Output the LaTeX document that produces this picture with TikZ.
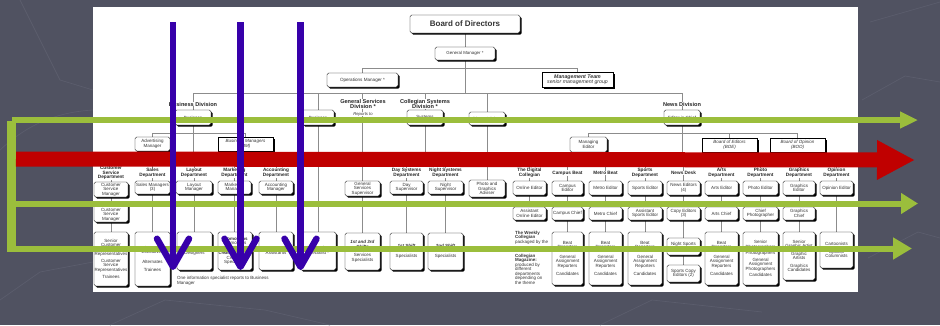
\documentclass[tikz,border=0pt]{standalone}
\usepackage{fontspec}
\setmainfont{Liberation Sans}
\usetikzlibrary{arrows.meta,shadows}

\definecolor{slide}{RGB}{80,82,97}
\definecolor{slideline}{RGB}{91,93,109}
\definecolor{arrowblue}{RGB}{55,0,170}
\definecolor{arrowred}{RGB}{192,0,0}
\definecolor{arrowgreen}{RGB}{155,190,60}

\pgfdeclarelayer{back}
\pgfdeclarelayer{wires}
\pgfdeclarelayer{front}
\pgfsetlayers{back,wires,main,front}

\begin{document}
\begin{tikzpicture}[x=1pt,y=-1pt,
  box/.style={draw=black, line width=.45pt, fill=white, rounded corners=1.6pt,
    align=center, inner sep=.4pt, text=black!80, font=\fontsize{4.5}{4.5}\selectfont,
    drop shadow={shadow xshift=1.7pt, shadow yshift=-1.7pt, opacity=1, fill=black}},
  sqbox/.style={box, rounded corners=0pt, font=\fontsize{4.5}{4.5}\selectfont\itshape},
  head/.style={align=center, inner sep=.4pt, fill=white, text=black!85,
    font=\fontsize{4.7}{4.5}\selectfont\bfseries},
  divhead/.style={head, font=\fontsize{5.6}{5.8}\selectfont\bfseries},
  note/.style={align=left, inner sep=0pt, text=black!80, font=\fontsize{4.5}{4.5}\selectfont},
  wire/.style={draw=black!45, line width=.6pt},
  greenline/.style={draw=arrowgreen, fill=arrowgreen, line width=6pt},
  redline/.style={draw=arrowred, fill=arrowred, line width=15pt},
  blueline/.style={draw=arrowblue, line width=6.5pt,
    -{Straight Barb[length=28pt, width=32pt, round]}}
]
\useasboundingbox (0,0) rectangle (940,325);

\begin{pgfonlayer}{back}
\fill[slide] (0,0) rectangle (940,325);
\draw[slideline, line width=.7pt] (870,22) -- (940,2);
\draw[slideline, line width=.7pt] (862,100) -- (905,76) -- (940,82);
\draw[slideline, line width=.7pt] (868,258) -- (918,232) -- (940,238);
\draw[slideline, line width=.7pt] (0,300) -- (40,272) -- (93,262);
\draw[slideline, line width=.7pt] (110,325) -- (165,300) -- (265,310) -- (330,325);
\draw[slideline, line width=.7pt] (600,325) -- (652,300) -- (762,312);
\draw[slideline, line width=.7pt] (0,150) .. controls (30,122) and (60,112) .. (93,110);
\draw[slideline, line width=.7pt] (20,0) -- (60,80) -- (93,90);
\fill[white] (93,7) rectangle (858,292);
\end{pgfonlayer}

% top of the chart
\node[box, minimum width=110pt, minimum height=18pt, font=\fontsize{8}{9}\selectfont\bfseries] (bod) at (465,24) {Board of Directors};
\node[box, minimum width=60pt, minimum height=13pt, font=\fontsize{4.4}{4.8}\selectfont] (gm) at (465,53.5) {General Manager *};
\node[box, minimum width=71pt, minimum height=14pt, font=\fontsize{4.6}{4.8}\selectfont] (ops) at (362.5,80) {Operations Manager *};
\node[sqbox, minimum width=71pt, minimum height=15pt, font=\fontsize{5.2}{5.4}\selectfont] (mgmt) at (577.5,79.5)
  {\textbf{\textit{Management Team}}\\\textit{senior management group}};

% divisions
\node[divhead] (bizdiv) at (193,104) {Business Division};
\node[divhead] (gsdiv) at (363,104) {General Services\\Division *};
\node[note, fill=white, font=\fontsize{4.2}{4.4}\selectfont\itshape] (reports) at (363,114) {Reports to};
\node[divhead] (csdiv) at (425,104) {Collegian Systems\\Division *};
\node[divhead] (newsdiv) at (682,104) {News Division};

% boxes: name / left / top / right / bottom / text
\foreach \nm/\xa/\ya/\xb/\yb/\txt in {
  biz/175/110/211/125/{Business},
  biz2/302/110/334/125/{Business},
  sys/407/110/443/125/{Systems},
  padv/469/112/505/125/{Photo Adviser},
  eic/664/110/700/125/{Editor in Chief},
  adv/135/137/170/151/{Advertising\\Manager},
  me/570/137/607/152/{Managing\\Editor},
  csm/94/182/128/197/{Customer\\Service\\Manager},
  sales/135/181/170/194/{Sales Managers\\(3)},
  lay/176/181/212/194/{Layout\\Manager},
  mkt/218/181/251/194/{Marketing\\Manager},
  acc/259/181/293/194/{Accounting\\Manager},
  gss/345/181/380/196/{General\\Services\\Supervisor},
  day/390/181/423/194/{Day\\Supervisor},
  night/428/181/463/194/{Night\\Supervisor},
  pga/469/180/505/197/{Photo and\\Graphics\\Adviser},
  online/513/181/546/195/{Online Editor},
  campus/552/181/583/195/{Campus\\Editor},
  metro/589/181/622/195/{Metro Editor},
  sports/628/181/662/195/{Sports Editor},
  news/667/181/700/195/{News Editors\\(4)},
  arts/705/181/738/195/{Arts Editor},
  photo/743/181/778/195/{Photo Editor},
  graph/783/181/815/195/{Graphics\\Editor},
  opin/820/181/853/195/{Opinion Editor},
  acsm/94/203/128/222/{Assistant\\Customer\\Service\\Manager},
  aoe/513/207/546/220/{Assistant\\Online Editor},
  cchief/552/207/583/220/{Campus Chief},
  mchief/589/207/622/220/{Metro Chief},
  ase/628/207/662/220/{Assistant\\Sports Editor},
  copy/667/207/700/220/{Copy Editors\\(3)},
  achief/705/207/738/220/{Arts Chief},
  cphoto/743/207/778/220/{Chief\\Photographer},
  gchief/783/207/815/220/{Graphics\\Chief},
  cs3/94/232/128/286/{Senior\\Customer\\Service\\Representatives\\[2pt]Customer\\Service\\Representatives\\[3pt]Trainees},
  sa3/135/232/170/286/{Account\\Executives\\[5pt]Alternates\\[4pt]Trainees},
  la3/177/232/212/270/{Layout\\Designers},
  mk3/218/232/252/270/{\textbf{Promotions}\\Promotions\\Specialists\\[1pt]{\fontsize{3.9}{4.5}\selectfont\bfseries Creative Services}\\Creative\\Specialists},
  ac3/259/232/293/270/{Accounting\\Assistants},
  is3/300/232/336/270/{Information\\Specialist *},
  gs3/345/233/380/270/{\textbf{\textit{1st and 3rd}}\\\textbf{\textit{Shifts}}\\[4pt]Services\\Specialists},
  day3/390/233/423/270/{\textbf{\textit{1st Shift}}\\[5pt]Specialists},
  ngt3/428/233/463/270/{\textbf{\textit{2nd Shift}}\\[5pt]Specialists},
  cb3/552/232/583/285/{Beat\\Reporters\\[5pt]General\\Assignment\\Reporters\\[4pt]Candidates},
  mb3/589/232/622/285/{Beat\\Reporters\\[5pt]General\\Assignment\\Reporters\\[4pt]Candidates},
  sp3/628/232/662/285/{Beat\\Reporters\\[5pt]General\\Assignment\\Reporters\\[4pt]Candidates},
  nse/667/238/700/255/{Night Sports\\Editor},
  sce/667/265/700/282/{Sports Copy\\Editors (2)},
  ar3/705/232/738/285/{Beat\\Reporters\\[5pt]General\\Assignment\\Reporters\\[4pt]Candidates},
  ph3/743/232/778/285/{Senior\\Photographers\\[2pt]Photographers\\[2pt]General\\Assignment\\Photographers\\[2pt]Candidates},
  gr3/783/232/815/280/{Senior\\Graphic Artist\\[3pt]Graphic\\Artists\\[3pt]Graphics\\Candidates},
  op3/820/232/853/268/{Cartoonists\\[3pt]Opinion\\Columnists}}
  \node[box, minimum width={(\xb-\xa)*1pt}, minimum height={(\yb-\ya)*1pt}] (\nm) at ({(\xa+\xb)/2},{(\ya+\yb)/2}) {\txt};

\foreach \nm/\xa/\ya/\xb/\yb/\txt in {
  bm/218/137/273/151/{Business Managers\\(BM)},
  boe/702/138/757/152/{Board of Editors\\(BOE)},
  boo/770/138/825/152/{Board of Opinion\\(BOO)}}
  \node[sqbox, minimum width={(\xb-\xa)*1pt}, minimum height={(\yb-\ya)*1pt}] (\nm) at ({(\xa+\xb)/2},{(\ya+\yb)/2}) {\txt};

% department headings
\foreach \nm/\x/\txt in {
  cshead/111/{Customer\\Service\\Department}, saleshead/152.5/{Sales\\Department},
  layhead/194/{Layout\\Department}, mkthead/234.5/{Marketing\\Department},
  acchead/276/{Accounting\\Department}, dayhead/406.5/{Day Systems\\Department},
  nighthead/445.5/{Night Systems\\Department}, dighead/529.5/{The Digital\\Collegian},
  campushead/567.5/{Campus Beat}, metrohead/605.5/{Metro Beat},
  sportshead/645/{Sports\\Department}, newshead/683.5/{News Desk},
  artshead/721.5/{Arts\\Department}, photohead/760.5/{Photo\\Department},
  graphhead/799/{Graphics\\Department}, opinhead/836.5/{Opinion\\Department}}
  \node[head] (\nm) at (\x,173) {\txt};

\node[note, anchor=north west] (isnote) at (177,276.5) {One information specialist reports to Business\\Manager};
\node[note, anchor=north west] (weekly) at (515,231) {\textbf{The Weekly}\\\textbf{Collegian}\\packaged by the};
\node[note, anchor=north west] (magazine) at (515,254) {\textbf{Collegian}\\\textbf{Magazine:}\\produced by\\different\\departments\\depending on\\the theme};

\begin{pgfonlayer}{wires}
\coordinate (r1) at (0,68);
\coordinate (r2) at (0,93);
\coordinate (r3) at (0,133);
\coordinate (r4) at (0,162);
\draw[wire] (bod) -- (gm);
\draw[wire] (ops.north |- r1) -- (mgmt.north |- r1);
\draw[wire] (ops.north |- r1) -- (ops.north);
\draw[wire] (mgmt.north |- r1) -- (mgmt.north);
\draw[wire] (gm.south) -- (gm.south |- r2);
\draw[wire] (biz.north |- r2) -- (eic.north |- r2);
\foreach \nm in {biz,biz2,sys,padv,eic,gss}
  \draw[wire] (\nm.north |- r2) -- (\nm.north);
\draw[wire] (biz.south) -- (biz.south |- r4);
\draw[wire] (adv.north |- r3) -- (bm.north |- r3);
\draw[wire] (me.north |- r3) -- (boo.north |- r3);
\draw[wire] (eic.south) -- (eic.south |- r4);
\draw[wire] (sys.south) -- (sys.south |- r4);
\draw[wire] (biz2.south) -- (is3.north);
\draw[wire] (padv.south) -- (pga.north);
\draw[wire] (csm.north |- r4) -- (acc.north |- r4);
\draw[wire] (day.north |- r4) -- (night.north |- r4);
\draw[wire] (online.north |- r4) -- (opin.north |- r4);
\foreach \nm in {adv,bm,me,boe,boo}
  \draw[wire] (\nm.north |- r3) -- (\nm.north);
\foreach \nm in {csm,sales,lay,mkt,acc,day,night,online,campus,metro,sports,news,arts,photo,graph,opin}
  \draw[wire] (\nm.north |- r4) -- (\nm.north);
\foreach \a/\b in {csm/acsm,acsm/cs3,sales/sa3,lay/la3,mkt/mk3,acc/ac3,gss/gs3,day/day3,night/ngt3,
    online/aoe,campus/cchief,cchief/cb3,metro/mchief,mchief/mb3,sports/ase,ase/sp3,news/copy,copy/nse,
    nse/sce,arts/achief,achief/ar3,photo/cphoto,cphoto/ph3,graph/gchief,gchief/gr3,opin/op3}
  \draw[wire] (\a.south) -- (\a.south |- \b.north);
\end{pgfonlayer}

\begin{pgfonlayer}{front}
\coordinate (gleft) at (11.5,121);
\coordinate (gleftend) at (11.5,252);
\coordinate (gtop) at (12,120);
\coordinate (gtopend) at (918,120);
\coordinate (gmid) at (16,203.5);
\coordinate (gmidend) at (918,203.5);
\coordinate (gbot) at (7,248.5);
\coordinate (gbotend) at (912,248.5);
\coordinate (rstart) at (16,159);
\coordinate (rend) at (915,160);
\draw[arrowgreen, line width=9pt] (gleft) -- (gleftend);
\draw[greenline, -{Triangle[length=18pt, width=16pt]}] (gtop) -- (gtopend);
\draw[greenline, -{Triangle[length=17pt, width=20pt]}] (gmid) -- (gmidend);
\draw[greenline, -{Triangle[length=19pt, width=21pt]}] (gbot) -- (gbotend);
\draw[redline, -{Triangle[length=38pt, width=37pt]}] (rstart) -- (rend);
\foreach \i/\x in {1/173, 2/240.5, 3/300.5} {
  \coordinate (b\i top) at (\x,22);
  \coordinate (b\i tip) at (\x,270);
  \draw[blueline] (b\i top) -- (b\i tip);
}
\end{pgfonlayer}
\end{tikzpicture}
\end{document}
